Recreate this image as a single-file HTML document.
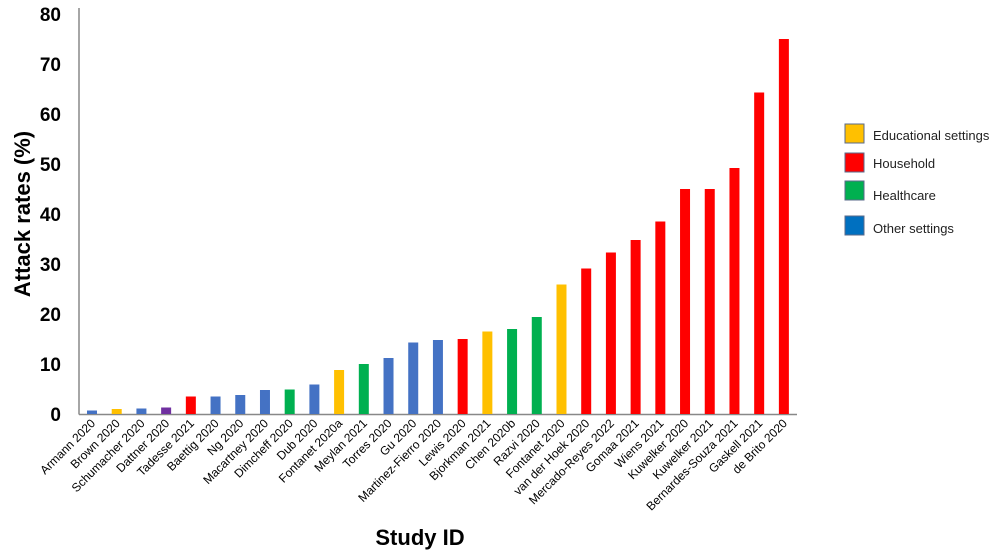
<!DOCTYPE html><html><head><style>body{margin:0;background:#fff}</style></head><body>
<svg width="1000" height="554" xmlns="http://www.w3.org/2000/svg" font-family="Liberation Sans, Arial, sans-serif">
<g font-weight="bold" font-size="19" text-anchor="end" fill="#000">
<text x="61" y="421">0</text><text x="61" y="371">10</text><text x="61" y="321">20</text><text x="61" y="271">30</text><text x="61" y="221">40</text><text x="61" y="171">50</text><text x="61" y="121">60</text><text x="61" y="71">70</text><text x="61" y="21">80</text>
</g>
<text transform="translate(30,214) rotate(-90)" text-anchor="middle" font-weight="bold" font-size="22">Attack rates (%)</text>
<text x="420" y="545" text-anchor="middle" font-weight="bold" font-size="22">Study ID</text>
<line x1="79" y1="8" x2="79" y2="414.5" stroke="#888" stroke-width="1.5"/>
<line x1="79" y1="414.5" x2="797" y2="414.5" stroke="#888" stroke-width="1.5"/>
<g id="bars"></g><g id="labels" font-size="12" fill="#000"></g>
<g font-size="13" fill="#222">
<rect x="845" y="124" width="19" height="19" fill="#FFC000" stroke="#5a6a8a"/><text x="873" y="140">Educational settings</text>
<rect x="845" y="153" width="19" height="19" fill="#FF0000" stroke="#5a6a8a"/><text x="873" y="168">Household</text>
<rect x="845" y="181" width="19" height="19" fill="#00B050" stroke="#5a6a8a"/><text x="873" y="200">Healthcare</text>
<rect x="845" y="216" width="19" height="19" fill="#0070C0" stroke="#5a6a8a"/><text x="873" y="233">Other settings</text>
</g>
</svg>
<script>
const B="#4472C4",Y="#FFC000",R="#FF0000",G="#00B050",P="#7030A0";
const d=[["Armann 2020",0.7,B],["Brown 2020",1,Y],["Schumacher 2020",1.1,B],["Dattner 2020",1.3,P],["Tadesse 2021",3.5,R],["Baettig 2020",3.5,B],["Ng 2020",3.8,B],["Macartney 2020",4.8,B],["Dimcheff 2020",4.9,G],["Dub 2020",5.9,B],["Fontanet 2020a",8.8,Y],["Meylan 2021",10,G],["Torres 2020",11.2,B],["Gu 2020",14.3,B],["Martinez-Fierro 2020",14.8,B],["Lewis 2020",15,R],["Bjorkman 2021",16.5,Y],["Chen 2020b",17,G],["Razvi 2020",19.4,G],["Fontanet 2020",25.9,Y],["van der Hoek 2020",29.1,R],["Mercado-Reyes 2022",32.3,R],["Gomaa 2021",34.8,R],["Wiens 2021",38.5,R],["Kuwelker 2020",45,R],["Kuwelker 2021",45,R],["Bernardes-Souza 2021",49.2,R],["Gaskell 2021",64.3,R],["de Brito 2020",75,R]];
let b="",l="";
d.forEach((e,i)=>{const c=92+i*24.71,h=e[1]*5;
b+=`<rect x="${c-5}" y="${414-h}" width="10" height="${h}" fill="${e[2]}"/>`;
l+=`<text transform="translate(${c+4},424) rotate(-45)" text-anchor="end">${e[0]}</text>`;});
document.getElementById("bars").innerHTML=b;document.getElementById("labels").innerHTML=l;
</script>
</body></html>
